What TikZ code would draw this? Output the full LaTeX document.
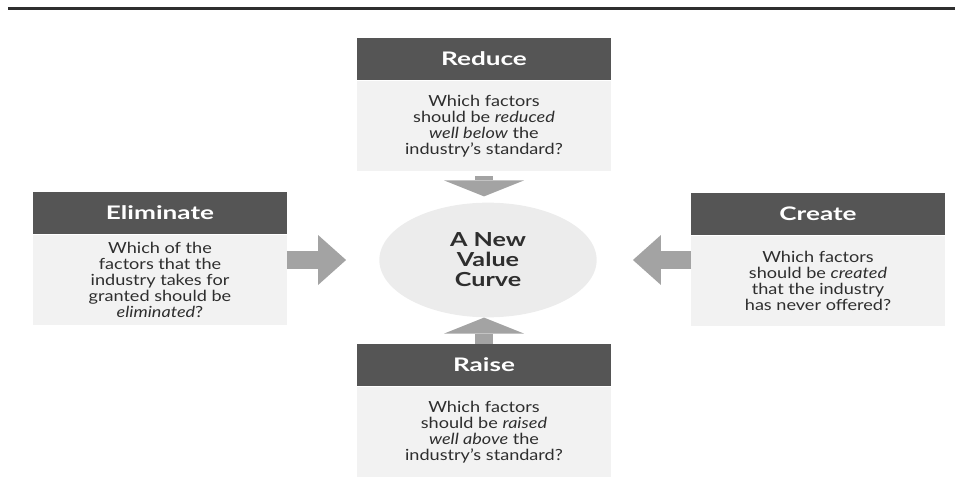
\documentclass[tikz,border=0pt]{standalone}
\usepackage{fontspec}
\setmainfont{Lato}
\newfontfamily\bodyfont[FakeStretch=1.18]{Lato}
\newfontfamily\headfont[FakeStretch=1.4]{Lato}
\newfontfamily\curvefont[FakeStretch=1.3]{Lato}
\usetikzlibrary{positioning,shapes.geometric,arrows.meta}
\definecolor{headgray}{HTML}{555555}
\definecolor{bodygray}{HTML}{F2F2F2}
\definecolor{curvegray}{HTML}{ECECEC}
\definecolor{arrowgray}{HTML}{A3A3A3}
\definecolor{textgray}{HTML}{2E2E2E}

\begin{document}
\begin{tikzpicture}[x=0.75pt, y=-0.75pt,
        headbox/.style={rectangle, fill=headgray, text=white, font=\headfont\bfseries\fontsize{14}{16}\selectfont, minimum width=190pt, minimum height=31.5pt, inner sep=0pt},
        bodybox/.style={rectangle, fill=bodygray, text=textgray, font=\bodyfont\fontsize{11.5}{12}\selectfont, minimum width=190pt, minimum height=68pt, inner sep=0pt, align=center},
        curve/.style={ellipse, fill=curvegray, minimum width=163pt, minimum height=86pt, inner sep=0pt, align=center, text=textgray, font=\curvefont\bfseries\fontsize{14.5}{15}\selectfont},
        flowh/.style={arrowgray, line width=14pt, -{Triangle[width=37.5pt, length=21pt, line width=0pt]}},
        flowv/.style={arrowgray, line width=14pt, -{Triangle[width=60pt, length=12pt, line width=0pt]}}
    ]
    \useasboundingbox (0,0) rectangle (955,502);

    % Rule across the top
    \draw[line width=2.25pt, textgray] (8,9) -- (955,9);

    % Centre
    \node[curve] (curve) at (488,260) {A New\\Value\\Curve};

    % Reduce (top)
    \node[headbox] (reducehead) at (484,59) {Reduce};
    \node[bodybox, below=0pt of reducehead] (reducebody) {Which factors\\should be \textit{reduced}\\\textit{well below} the\\industry’s standard?};

    % Eliminate (left)
    \node[headbox] (elimhead) at (160,213) {Eliminate};
    \node[bodybox, below=0pt of elimhead] (elimbody) {Which of the\\factors that the\\industry takes for\\granted should be\\\textit{eliminated}?};

    % Create (right)
    \node[headbox] (createhead) at (818,214) {Create};
    \node[bodybox, below=0pt of createhead] (createbody) {Which factors\\should be \textit{created}\\that the industry\\has never offered?};

    % Raise (bottom)
    \node[headbox] (raisehead) at (484,365) {Raise};
    \node[bodybox, below=0pt of raisehead] (raisebody) {Which factors\\should be \textit{raised}\\\textit{well above} the\\industry’s standard?};

    % Arrows into the curve
    \draw[flowv, shorten <=3.75pt, shorten >=4.5pt] (reducebody.south) -- (reducebody.south |- curve.north);
    \draw[flowh] (elimbody.east |- curve.west) -- ([xshift=-24.75pt]curve.west);
    \draw[flowh] (createbody.west |- curve.east) -- ([xshift=27pt]curve.east);
    \draw[flowv] (raisehead.north) -- (raisehead.north |- curve.south);

\end{tikzpicture}
\end{document}
